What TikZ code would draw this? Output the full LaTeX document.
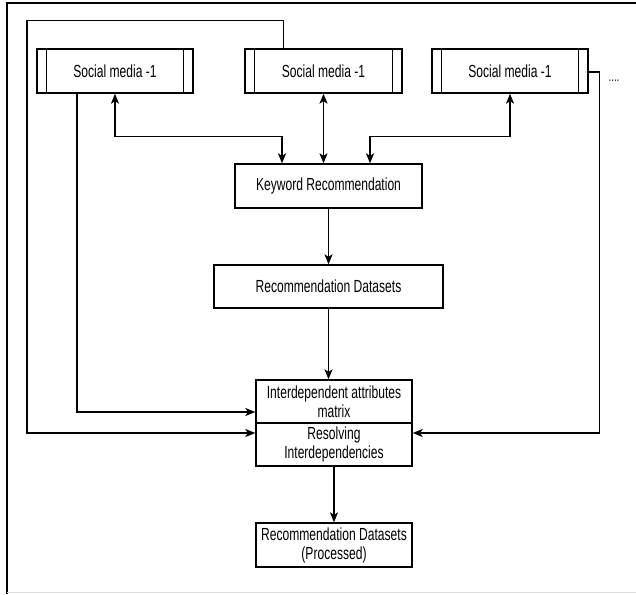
\documentclass[tikz,border=0pt]{standalone}
\usepackage{fontspec}
\setmainfont{Liberation Sans}
\usepackage{graphicx}
\usetikzlibrary{arrows.meta,calc}
\newcommand\sqz[1]{\scalebox{0.69}[1]{#1}}
\begin{document}
\begin{tikzpicture}[x=1pt,y=-1pt,line width=1.35pt,
  >={Stealth[length=10pt,width=8pt,inset=2.5pt]},
  box/.style={draw,rectangle,minimum height=44pt,inner sep=2pt,align=center,font=\fontsize{17.5}{20}\selectfont},
  conn/.style={->},
  biconn/.style={<->}]
\useasboundingbox (0,0) rectangle (636,594);
\draw (7,594) -- (7,3) -- (636,3);
\draw[black!12,line width=1pt] (7,592) -- (636,592);

\node[box,minimum width=156pt] (sm1) at (115,71) {\sqz{Social media -1}};
\node[box,minimum width=157pt] (sm2) at (323.5,71) {\sqz{Social media -1}};
\node[box,minimum width=156pt] (sm3) at (510,71) {\sqz{Social media -1}};
\foreach \n in {sm1,sm2,sm3}{
  \draw ($(\n.north west)+(10,0)$) -- ($(\n.south west)+(10,0)$);
  \draw ($(\n.north east)+(-10,0)$) -- ($(\n.south east)+(-10,0)$);
}
\node[font=\fontsize{14}{16}\selectfont] (dots) at (614,81) {\sqz{....}};

\node[box,minimum width=187pt] (kw) at (328.5,186) {\sqz{Keyword Recommendation}};
\node[box,minimum width=229pt,minimum height=43pt] (rd) at (328.5,286.5) {\sqz{Recommendation Datasets}};
\node[box,minimum width=156pt,minimum height=43pt] (ia) at (334,401.5) {\sqz{Interdependent attributes}\\[-1pt]\sqz{matrix}};
\node[box,minimum width=156pt,minimum height=43pt] (rs) at (334,444.5) {\sqz{Resolving}\\[-1pt]\sqz{Interdependencies}};
\node[box,minimum width=156pt] (fin) at (334,545) {\sqz{Recommendation Datasets}\\[-1pt]\sqz{(Processed)}};

\draw[biconn] (sm1.south) -- ++(0,43) -| ($(kw.north)+(-46.5,0)$);
\draw[biconn] (sm2.south) -- (sm2.south |- kw.north);
\draw[biconn] (sm3.south) -- ++(0,43) -| ($(kw.north)+(41.5,0)$);
\draw[conn] (kw.south) -- (rd.north);
\draw[conn] (rd.south) -- (rd.south |- ia.north);
\draw[conn] ($(sm1.south)+(-38,0)$) |- ($(ia.west)+(0,10.5)$);
\draw[conn] ($(sm2.north west)+(39,0)$) -- ++(0,-28) -| (27,433) -- ($(rs.west)+(0,-11.5)$);
\draw[conn] ($(sm3.east)+(0,1)$) -- ++(11,0) |- ($(rs.east)+(0,-11.5)$);
\draw[conn] (rs.south) -- (fin.north);
\end{tikzpicture}
\end{document}
